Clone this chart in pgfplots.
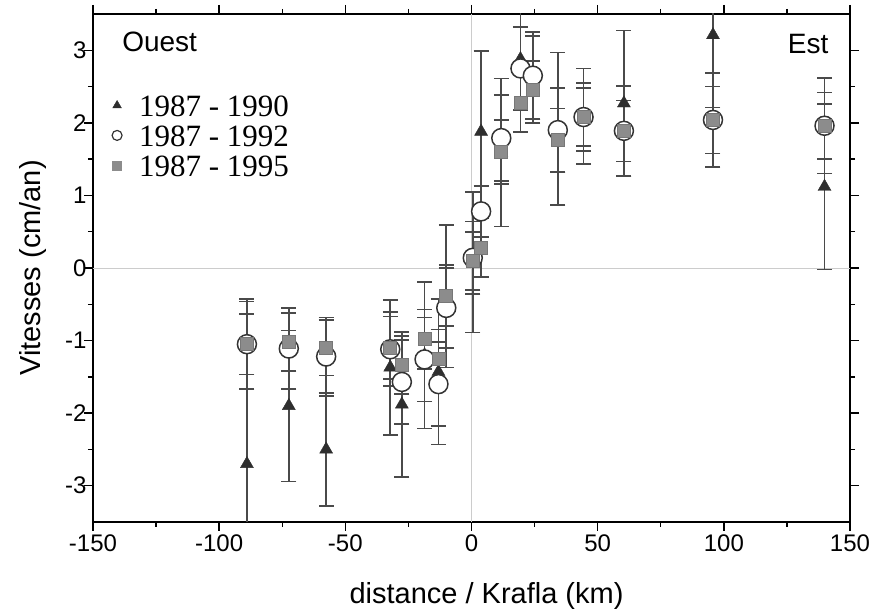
\documentclass[border=0pt]{standalone}
\usepackage{pgfplots}
\pgfplotsset{compat=1.18}
\usepackage{fontspec}
\setmainfont{Liberation Sans}
\newfontfamily\timesf{Liberation Serif}
\usetikzlibrary{calc}
\definecolor{tri}{HTML}{2E2E2E}
\definecolor{circ}{HTML}{333333}
\definecolor{sq}{HTML}{8C8C8C}
\definecolor{ebc}{HTML}{4A4A4A}

\pgfplotstableread{
x y e
-89.0 -2.70 2.24
-72.4 -1.90 1.04
-57.6 -2.50 0.78
-32.2 -1.37 0.93
-27.6 -1.88 1.00
-18.6 -1.20 1.01
-13.1 -1.43 1.00
-10.0 -0.39 0.98
0.5 0.08 0.97
3.8 1.88 1.11
11.8 1.59 1.02
19.4 2.88 1.00
24.3 2.60 0.60
34.2 1.92 1.05
44.4 2.09 0.66
60.4 2.27 1.00
95.7 3.21 1.00
139.9 1.12 1.14
}\tri

\pgfplotstableread{
x y e
-89.0 -1.05 0.62
-72.4 -1.11 0.56
-57.6 -1.22 0.54
-32.2 -1.12 0.51
-27.6 -1.57 0.58
-18.6 -1.26 0.58
-13.1 -1.60 0.58
-10.0 -0.55 0.55
0.5 0.14 0.50
3.8 0.78 0.35
11.8 1.79 0.59
19.4 2.75 0.57
24.3 2.65 0.60
34.2 1.90 0.58
44.4 2.08 0.47
60.4 1.89 0.62
95.7 2.04 0.65
139.9 1.96 0.66
}\circd

\pgfplotstableread{
x y e
-89.0 -1.05 0.42
-72.4 -1.02 0.40
-57.6 -1.10 0.38
-32.2 -1.10 0.43
-27.6 -1.34 0.40
-18.6 -0.98 0.41
-13.1 -1.25 0.40
-10.0 -0.38 0.42
0.5 0.10 0.40
3.8 0.28 0.40
11.8 1.60 0.44
19.4 2.27 0.40
24.3 2.45 0.40
34.2 1.76 0.44
44.4 2.08 0.40
60.4 1.89 0.42
95.7 2.04 0.46
139.9 1.96 0.46
}\sqd

\pgfplotsset{myerr/.style={error bars/.cd, y dir=both, y explicit, error mark=-,
  error bar style={line width=1.6pt, draw=ebc},
  error mark options={rotate=90, line width=1.6pt, draw=ebc, mark size=7.5pt}}}

\begin{document}
\begin{tikzpicture}
\begin{axis}[name=ax, scale only axis, width=757pt, height=508pt,
  xmin=-150, xmax=150, ymin=-3.5, ymax=3.5,
  xtick={-150,-100,...,150}, ytick={-3,-2,...,3},
  minor x tick num=1, minor y tick num=1,
  tick align=outside, major tick length=9pt, minor tick length=5pt,
  major tick style={black, line width=1.4pt},
  minor tick style={black, line width=1.4pt},
  axis line style={line width=2.6pt},
  tick label style={font=\fontsize{24}{28}\selectfont},
  yticklabel style={xshift=6pt},
  /pgf/number format/assume math mode=true,
  xlabel={distance / Krafla (km)}, ylabel={Vitesses (cm/an)},
  label style={font=\fontsize{29}{34}\selectfont},
  xlabel style={yshift=-24pt, xshift=15pt},
  ylabel style={yshift=12pt},
  legend cell align=left,
  legend style={draw=none, fill=none, at={(rel axis cs:0.021,0.848)}, anchor=north west,
    font=\timesf\fontsize{31}{31}\selectfont, row sep=6pt, column sep=16pt,
    nodes={inner sep=1pt, text height=22pt, text depth=0pt}},
]
\draw[black!20, line width=0.9pt] (axis cs:0,-3.5) -- (axis cs:0,3.5);
\draw[black!20, line width=0.9pt] (axis cs:-150,0) -- (axis cs:150,0);

\addplot[forget plot, only marks, draw=tri, mark=triangle*, mark size=7.5pt, mark options={fill=tri, draw=tri}, myerr]
  table[x=x, y=y, y error=e] {\tri};
\addplot[forget plot, only marks, draw=circ, mark=*, mark size=9.5pt, mark options={fill=white, draw=circ, line width=1.5pt}, myerr]
  table[x=x, y=y, y error=e] {\circd};
\addplot[forget plot, only marks, draw=sq, mark=square*, mark size=6.5pt, mark options={fill=sq, draw=sq!85!black, line width=0.6pt}, myerr]
  table[x=x, y=y, y error=e] {\sqd};

\addlegendimage{only marks, mark=triangle*, mark size=5pt, mark options={fill=tri, draw=tri}}
\addlegendentry{1987 - 1990}
\addlegendimage{only marks, mark=*, mark size=5pt, mark options={fill=white, draw=circ, line width=1.2pt}}
\addlegendentry{1987 - 1992}
\addlegendimage{only marks, mark=square*, mark size=4.5pt, mark options={fill=sq, draw=sq}}
\addlegendentry{1987 - 1995}

\node[anchor=base west, font=\fontsize{28}{32}\selectfont] at (rel axis cs:0.034,0.927) {Ouest};
\node[anchor=base east, font=\fontsize{28}{32}\selectfont] at (rel axis cs:0.976,0.923) {Est};
\end{axis}
\pgfresetboundingbox
\path ($(ax.south west)+(-93pt,-92pt)$) rectangle ($(ax.north east)+(24pt,14pt)$);
\end{tikzpicture}
\end{document}
